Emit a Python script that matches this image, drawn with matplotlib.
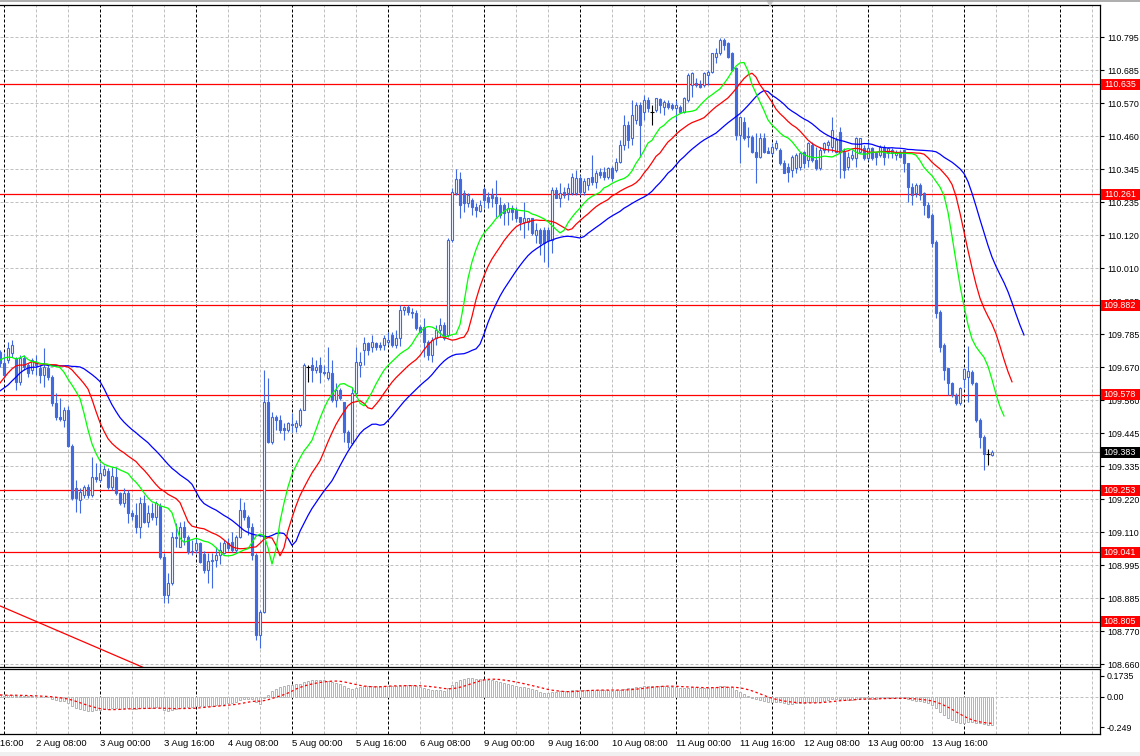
import numpy as np
import pandas as pd
import matplotlib
matplotlib.use('Agg')
import matplotlib.pyplot as plt
import matplotlib.transforms as mtransforms
from matplotlib.patches import Rectangle, Polygon
from matplotlib.lines import Line2D

# USDJPY H1 candles, bar 0 .. 248
opens = [
    109.723, 109.686, 109.696, 109.720, 109.703, 109.621, 109.703, 109.679, 109.662, 109.689,
    109.669, 109.645, 109.669, 109.638, 109.550, 109.502, 109.492, 109.526, 109.403, 109.260,
    109.220, 109.237, 109.264, 109.237, 109.298, 109.288, 109.305, 109.320, 109.264, 109.298,
    109.244, 109.210, 109.244, 109.175, 109.168, 109.127, 109.210, 109.145, 109.175, 109.162,
    109.200, 109.025, 108.896, 108.937, 109.093, 109.059, 109.127, 109.093, 109.042, 109.049,
    109.073, 109.035, 108.981, 109.012, 109.015, 109.032, 109.039, 109.073, 109.076, 109.049,
    109.093, 109.186, 109.162, 109.127, 109.032, 108.760, 108.838, 109.553, 109.417, 109.502,
    109.492, 109.465, 109.458, 109.478, 109.468, 109.475, 109.526, 109.672, 109.679, 109.662,
    109.679, 109.655, 109.635, 109.652, 109.560, 109.594, 109.553, 109.451, 109.414, 109.584,
    109.679, 109.730, 109.754, 109.740, 109.754, 109.747, 109.747, 109.757, 109.781, 109.747,
    109.771, 109.866, 109.877, 109.860, 109.856, 109.808, 109.808, 109.757, 109.713, 109.771,
    109.798, 109.815, 109.781, 110.105, 110.265, 110.313, 110.265, 110.231, 110.241, 110.217,
    110.204, 110.278, 110.251, 110.258, 110.251, 110.224, 110.224, 110.200, 110.214, 110.207,
    110.183, 110.166, 110.166, 110.180, 110.122, 110.139, 110.139, 110.139, 110.105, 110.275,
    110.248, 110.268, 110.265, 110.265, 110.265, 110.316, 110.268, 110.292, 110.319, 110.302,
    110.336, 110.336, 110.319, 110.350, 110.343, 110.370, 110.428, 110.496, 110.452, 110.513,
    110.565, 110.540, 110.582, 110.541, 110.548, 110.585, 110.558, 110.571, 110.565, 110.554,
    110.558, 110.541, 110.582, 110.633, 110.640, 110.633, 110.633, 110.667, 110.677, 110.728,
    110.742, 110.786, 110.776, 110.742, 110.691, 110.462, 110.507, 110.459, 110.455, 110.404,
    110.387, 110.452, 110.408, 110.401, 110.418, 110.411, 110.367, 110.353, 110.343, 110.350,
    110.353, 110.404, 110.377, 110.428, 110.377, 110.350, 110.411, 110.428, 110.422, 110.404,
    110.472, 110.404, 110.353, 110.384, 110.384, 110.404, 110.418, 110.384, 110.418, 110.401,
    110.394, 110.418, 110.404, 110.411, 110.394, 110.404, 110.411, 110.367, 110.285, 110.265,
    110.292, 110.265, 110.224, 110.190, 110.098, 109.860, 109.747, 109.669, 109.618, 109.577,
    109.550, 109.632, 109.638, 109.655, 109.618, 109.492, 109.434, 109.376, 109.373,
]
highs = [
    109.730, 109.720, 109.757, 109.764, 109.706, 109.713, 109.713, 109.686, 109.703, 109.713,
    109.679, 109.737, 109.679, 109.645, 109.584, 109.567, 109.536, 109.540, 109.410, 109.288,
    109.260, 109.271, 109.275, 109.366, 109.346, 109.346, 109.340, 109.330, 109.332, 109.332,
    109.247, 109.260, 109.254, 109.185, 109.210, 109.230, 109.237, 109.203, 109.210, 109.215,
    109.210, 109.039, 108.971, 109.110, 109.141, 109.145, 109.148, 109.100, 109.083, 109.090,
    109.076, 109.046, 109.039, 109.039, 109.059, 109.076, 109.083, 109.090, 109.110, 109.100,
    109.226, 109.213, 109.168, 109.141, 109.039, 108.845, 109.662, 109.635, 109.519, 109.509,
    109.509, 109.482, 109.485, 109.516, 109.492, 109.533, 109.686, 109.679, 109.706, 109.696,
    109.706, 109.679, 109.740, 109.696, 109.618, 109.601, 109.553, 109.458, 109.604, 109.740,
    109.723, 109.774, 109.757, 109.781, 109.757, 109.757, 109.781, 109.791, 109.791, 109.798,
    109.884, 109.880, 109.884, 109.873, 109.866, 109.815, 109.839, 109.764, 109.774, 109.815,
    109.839, 109.825, 110.112, 110.282, 110.347, 110.336, 110.275, 110.265, 110.248, 110.231,
    110.241, 110.285, 110.268, 110.282, 110.309, 110.251, 110.231, 110.234, 110.224, 110.217,
    110.183, 110.234, 110.180, 110.180, 110.163, 110.146, 110.149, 110.149, 110.285, 110.285,
    110.299, 110.285, 110.299, 110.333, 110.343, 110.326, 110.316, 110.316, 110.394, 110.343,
    110.350, 110.353, 110.353, 110.357, 110.384, 110.445, 110.530, 110.510, 110.582, 110.575,
    110.575, 110.599, 110.592, 110.565, 110.589, 110.589, 110.582, 110.582, 110.571, 110.582,
    110.565, 110.592, 110.674, 110.677, 110.657, 110.650, 110.677, 110.684, 110.742, 110.759,
    110.793, 110.793, 110.779, 110.745, 110.694, 110.524, 110.524, 110.490, 110.462, 110.469,
    110.469, 110.469, 110.421, 110.435, 110.445, 110.418, 110.377, 110.367, 110.394, 110.401,
    110.404, 110.408, 110.438, 110.438, 110.421, 110.421, 110.438, 110.445, 110.524, 110.455,
    110.490, 110.418, 110.404, 110.411, 110.455, 110.452, 110.428, 110.445, 110.421, 110.404,
    110.428, 110.428, 110.421, 110.418, 110.411, 110.411, 110.411, 110.367, 110.299, 110.299,
    110.299, 110.268, 110.234, 110.197, 110.105, 109.866, 109.754, 109.669, 109.621, 109.584,
    109.604, 109.669, 109.744, 109.662, 109.621, 109.499, 109.441, 109.393, 109.390,
]
lows = [
    109.672, 109.635, 109.686, 109.706, 109.594, 109.611, 109.662, 109.640, 109.650, 109.645,
    109.618, 109.604, 109.628, 109.540, 109.492, 109.490, 109.468, 109.400, 109.220, 109.179,
    109.175, 109.226, 109.226, 109.230, 109.281, 109.280, 109.300, 109.258, 109.254, 109.237,
    109.203, 109.196, 109.141, 109.150, 109.107, 109.090, 109.141, 109.127, 109.151, 109.134,
    109.020, 108.869, 108.869, 108.930, 109.059, 109.059, 109.066, 109.035, 109.032, 109.040,
    109.005, 108.970, 108.937, 108.920, 108.991, 109.000, 109.035, 109.046, 109.042, 109.040,
    109.090, 109.151, 109.100, 109.015, 108.743, 108.715, 108.835, 109.414, 109.410, 109.458,
    109.448, 109.424, 109.451, 109.451, 109.451, 109.468, 109.526, 109.621, 109.621, 109.652,
    109.618, 109.645, 109.628, 109.553, 109.536, 109.560, 109.417, 109.397, 109.407, 109.570,
    109.638, 109.679, 109.713, 109.723, 109.730, 109.730, 109.730, 109.747, 109.740, 109.737,
    109.743, 109.849, 109.849, 109.839, 109.798, 109.788, 109.706, 109.696, 109.689, 109.747,
    109.774, 109.764, 109.774, 110.098, 110.258, 110.180, 110.200, 110.217, 110.190, 110.183,
    110.200, 110.214, 110.214, 110.217, 110.183, 110.180, 110.156, 110.156, 110.173, 110.166,
    110.139, 110.112, 110.139, 110.122, 110.095, 110.054, 110.030, 110.013, 110.061, 110.248,
    110.217, 110.248, 110.241, 110.258, 110.258, 110.258, 110.258, 110.275, 110.292, 110.282,
    110.316, 110.309, 110.313, 110.306, 110.336, 110.367, 110.411, 110.418, 110.428, 110.500,
    110.387, 110.513, 110.540, 110.497, 110.541, 110.537, 110.530, 110.551, 110.548, 110.513,
    110.537, 110.537, 110.575, 110.592, 110.626, 110.623, 110.626, 110.633, 110.674, 110.708,
    110.735, 110.752, 110.725, 110.684, 110.445, 110.367, 110.445, 110.422, 110.401, 110.299,
    110.384, 110.401, 110.401, 110.394, 110.411, 110.360, 110.333, 110.302, 110.319, 110.333,
    110.343, 110.350, 110.353, 110.370, 110.343, 110.343, 110.401, 110.404, 110.404, 110.401,
    110.316, 110.316, 110.343, 110.377, 110.353, 110.401, 110.377, 110.377, 110.377, 110.360,
    110.387, 110.360, 110.384, 110.384, 110.377, 110.384, 110.336, 110.234, 110.224, 110.251,
    110.241, 110.190, 110.180, 110.081, 109.839, 109.723, 109.628, 109.577, 109.570, 109.543,
    109.543, 109.601, 109.553, 109.611, 109.485, 109.397, 109.322, 109.339, 109.370,
]
closes = [
    109.686, 109.645, 109.737, 109.747, 109.621, 109.703, 109.672, 109.652, 109.696, 109.679,
    109.645, 109.672, 109.638, 109.550, 109.502, 109.495, 109.526, 109.403, 109.226, 109.226,
    109.247, 109.264, 109.237, 109.298, 109.290, 109.312, 109.325, 109.264, 109.302, 109.244,
    109.210, 109.244, 109.175, 109.165, 109.127, 109.210, 109.145, 109.175, 109.162, 109.210,
    109.025, 108.896, 108.937, 109.093, 109.090, 109.127, 109.093, 109.042, 109.046, 109.073,
    109.008, 108.981, 109.012, 109.015, 109.032, 109.049, 109.073, 109.056, 109.049, 109.093,
    109.186, 109.162, 109.127, 109.032, 108.760, 108.838, 109.553, 109.417, 109.502, 109.492,
    109.458, 109.458, 109.482, 109.475, 109.482, 109.526, 109.679, 109.672, 109.662, 109.672,
    109.655, 109.652, 109.655, 109.560, 109.594, 109.567, 109.451, 109.417, 109.584, 109.689,
    109.689, 109.754, 109.730, 109.757, 109.740, 109.740, 109.771, 109.764, 109.747, 109.771,
    109.866, 109.877, 109.860, 109.856, 109.805, 109.791, 109.757, 109.713, 109.764, 109.798,
    109.815, 109.771, 110.105, 110.268, 110.313, 110.224, 110.231, 110.258, 110.217, 110.207,
    110.224, 110.241, 110.234, 110.248, 110.231, 110.190, 110.197, 110.214, 110.200, 110.180,
    110.166, 110.180, 110.180, 110.129, 110.139, 110.095, 110.095, 110.105, 110.275, 110.248,
    110.265, 110.258, 110.282, 110.319, 110.316, 110.268, 110.306, 110.316, 110.302, 110.333,
    110.326, 110.319, 110.350, 110.316, 110.370, 110.428, 110.496, 110.445, 110.530, 110.565,
    110.496, 110.582, 110.555, 110.541, 110.589, 110.565, 110.575, 110.558, 110.554, 110.565,
    110.541, 110.589, 110.667, 110.674, 110.633, 110.626, 110.674, 110.677, 110.742, 110.742,
    110.786, 110.769, 110.728, 110.684, 110.462, 110.524, 110.452, 110.455, 110.404, 110.387,
    110.452, 110.404, 110.401, 110.421, 110.435, 110.367, 110.333, 110.336, 110.387, 110.394,
    110.401, 110.367, 110.435, 110.377, 110.350, 110.411, 110.435, 110.438, 110.479, 110.445,
    110.404, 110.343, 110.387, 110.394, 110.452, 110.452, 110.384, 110.418, 110.384, 110.387,
    110.421, 110.387, 110.418, 110.401, 110.404, 110.387, 110.367, 110.285, 110.258, 110.292,
    110.258, 110.224, 110.183, 110.095, 109.856, 109.740, 109.662, 109.618, 109.577, 109.550,
    109.601, 109.665, 109.659, 109.618, 109.492, 109.434, 109.376, 109.376, 109.383,
]

# Alligator values shown left of the first computed point (also the SMMA seeds)
jaw_head = [109.591, 109.601, 109.611, 109.625, 109.638, 109.652, 109.662, 109.669]
teeth_head = [109.618, 109.635, 109.652, 109.666, 109.676]
lips_head = [109.696, 109.703, 109.706]

# MACD ema seeds before bar 0
fast_seed = 109.700
slow_seed = 109.680

# horizontal levels and current bid
levels = [110.635, 110.261, 109.882, 109.578, 109.253, 109.041, 108.805]
bid = 109.383

# red trend line anchors (bar, price)
trend_bars = [0, 40]
trend_prices = [108.859, 108.625]

price_ticks = np.linspace(110.795, 108.660, 20)
price_labels = ['110.795', '110.685', '110.570', '110.460', '110.345', '110.235', '110.120',
                '110.010', '109.895', '109.785', '109.670', '109.560', '109.445', '109.335',
                '109.220', '109.110', '108.995', '108.885', '108.770', '108.660']
macd_ticks = [0.1735, 0.0, -0.249]
macd_labels = ['0.1735', '0.00', '-0.249']

time_bars = [-7, 9, 25, 41, 57, 73, 89, 105, 121, 137, 153, 169, 185, 201, 217, 233]
time_labels = ['30 Jul 16:00', '2 Aug 08:00', '3 Aug 00:00', '3 Aug 16:00', '4 Aug 08:00',
               '5 Aug 00:00', '5 Aug 16:00', '6 Aug 08:00', '9 Aug 00:00', '9 Aug 16:00',
               '10 Aug 08:00', '11 Aug 00:00', '11 Aug 16:00', '12 Aug 08:00',
               '13 Aug 00:00', '13 Aug 16:00']

plt.rcParams['font.family'] = ['Liberation Sans', 'DejaVu Sans']
FS_AX = 6.4
FS_TIME = 6.8
BLUE = '#4169e1'
GRID = '#c0c0c0'

W, H = 1140, 756
fig = plt.figure(figsize=(W / 100, H / 100), dpi=100)
fig.patch.set_facecolor('white')


def fy(py):
    return 1 - py / H


ax = fig.add_axes([0, fy(667), 1100 / W, (667 - 5) / H])
ax2 = fig.add_axes([0, fy(734), 1100 / W, (734 - 669) / H])

o = np.array(opens)
h = np.array(highs)
l = np.array(lows)
c = np.array(closes)
x = np.arange(len(c))

# grid: gray every 8 bars, black day separators every 24 bars
for b in range(1, 276, 8):
    dark = (b - 1) % 24 == 0
    for a in (ax, ax2):
        a.axvline(b, color='black' if dark else GRID, lw=0.72, ls=(0, (3, 2)), zorder=0)
for p in price_ticks:
    ax.axhline(p, color=GRID, lw=0.72, ls=(0, (3, 2)), zorder=0)
ax2.axhline(0, color=GRID, lw=0.72, ls=(0, (3, 2)), zorder=0)

# levels, bid line, trend line
for lev in levels:
    ax.axhline(lev, color='red', lw=0.9, zorder=1)
ax.axhline(bid, color=GRID, lw=0.8, zorder=1)
ax.plot(trend_bars, trend_prices, color='red', lw=0.9, zorder=1)

# candles
up = c > o
dn = c < o
dj = c == o
ax.vlines(x[~dj], l[~dj], h[~dj], color=BLUE, lw=0.8, zorder=2)
ax.vlines(x[dj], l[dj], h[dj], color='black', lw=0.8, zorder=2)
ax.hlines(o[dj], x[dj] - 0.4, x[dj] + 0.4, color='black', lw=0.8, zorder=2)
ax.bar(x[up], c[up] - o[up], bottom=o[up], width=0.5, facecolor='white',
       edgecolor=BLUE, lw=0.8, zorder=3)
ax.bar(x[dn], o[dn] - c[dn], bottom=c[dn], width=0.5, facecolor=BLUE,
       edgecolor=BLUE, lw=0.8, zorder=3)

# Alligator: SMMA of median price, shifted forward
med = (h + l) / 2


def smma_line(head, n):
    s = pd.Series(np.r_[head[-1], med]).ewm(alpha=1 / n, adjust=False).mean().to_numpy()[1:]
    return np.r_[head, s]


jaw = smma_line(jaw_head, 13)
teeth = smma_line(teeth_head, 8)
lips = smma_line(lips_head, 5)
ax.plot(np.arange(len(jaw)), jaw, color='#0000ff', lw=0.9, zorder=4)
ax.plot(np.arange(len(teeth)), teeth, color='#ff0000', lw=0.9, zorder=4)
ax.plot(np.arange(len(lips)), lips, color='#00ff00', lw=0.9, zorder=4)

# MACD 12/26/9
fast = pd.Series(np.r_[fast_seed, c]).ewm(span=12, adjust=False).mean().to_numpy()[1:]
slow = pd.Series(np.r_[slow_seed, c]).ewm(span=26, adjust=False).mean().to_numpy()[1:]
macd = fast - slow
signal = pd.Series(macd).rolling(9, min_periods=1).mean().to_numpy()
ax2.bar(x, macd, width=0.45, facecolor='white', edgecolor='#b4b4b4', lw=0.7, zorder=2)
ax2.plot(x, signal, color='red', lw=0.9, ls=(0, (2, 2)), zorder=3)

# axes look
for a in (ax, ax2):
    a.set_xlim(0, 275)
    a.set_xticks([])
    a.spines['left'].set_visible(False)
    for s in ('top', 'bottom', 'right'):
        a.spines[s].set_linewidth(0.9)
    a.yaxis.tick_right()
    a.tick_params(axis='y', length=3, width=0.8, pad=2, labelsize=FS_AX)

ax.set_ylim(108.651, 110.905)
ax.set_yticks(price_ticks)
ax.set_yticklabels(price_labels)
ax2.set_ylim(-0.306, 0.231)
ax2.set_yticks(macd_ticks)
ax2.set_yticklabels(macd_labels)

# price tags on the right axis (they sit over the tick labels, as in the terminal)
tr = mtransforms.blended_transform_factory(fig.transFigure, ax.transData)
bh = 11 / 293.7
for lev, col in [(v, 'red') for v in levels] + [(bid, 'black')]:
    fig.add_artist(Rectangle((1101 / W, lev - bh / 2), 39 / W, bh, transform=tr,
                             facecolor=col, edgecolor='none', zorder=5))
    fig.text(1120 / W, lev, '%.3f' % lev, transform=tr, color='white', fontsize=FS_AX,
             ha='center', va='center', zorder=6)

# time labels
tt = mtransforms.blended_transform_factory(ax2.transData, fig.transFigure)
for b, s in zip(time_bars, time_labels):
    fig.text(b + 0.1, fy(743.5), s, transform=tt, fontsize=FS_TIME, ha='left', va='center')

# window edges
fig.add_artist(Line2D([0, 1], [fy(0.7), fy(0.7)], color='#a0a0a0', lw=1.2))
fig.add_artist(Rectangle((0, 0), 1, 4 / H, facecolor='#f0f0f0', edgecolor='none'))
fig.add_artist(Polygon([[766 / W, fy(0)], [774 / W, fy(0)], [770 / W, fy(7)]],
                       facecolor='#c8c8c8', edgecolor='none'))

fig.savefig('out.png', dpi=100)
